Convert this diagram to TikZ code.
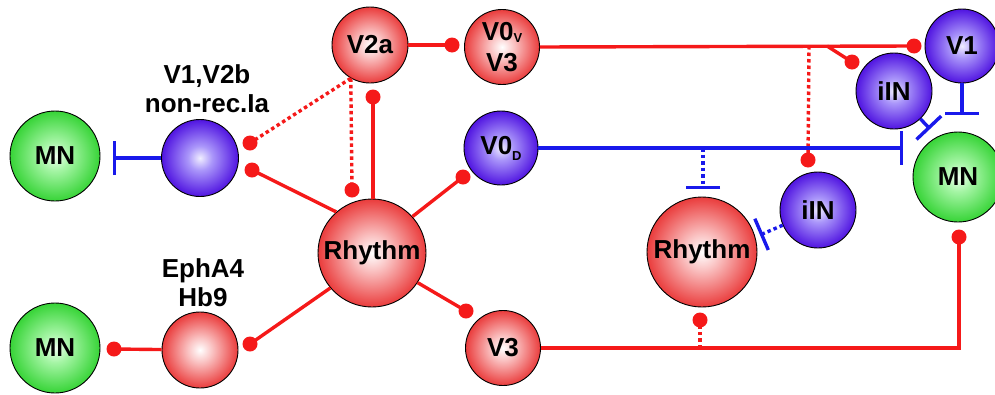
\documentclass[tikz,border=0pt]{standalone}
\usepackage{fontspec}
\setmainfont{Liberation Sans}
\usetikzlibrary{arrows.meta}
\definecolor{lred}{RGB}{245,25,25}
\definecolor{lblue}{RGB}{25,25,235}
\definecolor{rA}{RGB}{255,255,255}
\definecolor{rB}{RGB}{250,195,195}
\definecolor{rC}{RGB}{234,60,60}
\definecolor{bA}{RGB}{240,238,255}
\definecolor{bB}{RGB}{170,150,250}
\definecolor{bC}{RGB}{80,20,225}
\definecolor{gA}{RGB}{240,255,240}
\definecolor{gB}{RGB}{165,245,165}
\definecolor{gC}{RGB}{55,212,55}
\pgfdeclareradialshading{redball}{\pgfpoint{0bp}{0bp}}{color(0bp)=(rA); color(8bp)=(rB); color(25bp)=(rC); color(50bp)=(rC)}
\pgfdeclareradialshading{blueball}{\pgfpoint{0bp}{0bp}}{color(0bp)=(bA); color(8bp)=(bB); color(25bp)=(bC); color(50bp)=(bC)}
\pgfdeclareradialshading{greenball}{\pgfpoint{0bp}{0bp}}{color(0bp)=(gA); color(8bp)=(gB); color(25bp)=(gC); color(50bp)=(gC)}
\tikzset{
  ball/.style={circle, draw=black, line width=0.9pt, inner sep=0pt, align=center,
    font=\bfseries\fontsize{26}{31}\selectfont},
  rball/.style={ball, shading=redball, minimum size=#1},
  bball/.style={ball, shading=blueball, minimum size=#1},
  gball/.style={ball, shading=greenball, minimum size=#1},
  lbl/.style={align=center, inner sep=0pt, font=\bfseries\fontsize{26}{29}\selectfont},
  rdot/.style={circle, fill=lred, inner sep=0pt, minimum size=15pt},
  exc/.style={draw=lred, line width=3.4pt},
  excdot/.style={exc, dash pattern=on 3.5pt off 3pt},
  inhib/.style={draw=lblue, line width=3.4pt, -{Bar[width=34pt]}},
  inhdot/.style={inhib, dash pattern=on 3.5pt off 3pt},
}
\newcommand{\subv}[2]{\raisebox{#1}{\fontsize{13}{13}\selectfont #2}}
\begin{document}
\begin{tikzpicture}[x=1pt,y=-1pt]
\useasboundingbox (0,0) rectangle (995,394);
\clip (0,0) rectangle (995,394);
% nodes
\node[gball=90pt] (MNa) at (55,156) {MN};
\node[bball=77pt] (inh) at (200,158) {};
\node[lbl] (lab1) at (207,89) {V1,V2b\\non-rec.Ia};
\node[rball=76pt] (V2a) at (370,45) {V2a};
\node[rball=75pt] (V0V) at (502,47) {V0\subv{-2pt}{V}\\V3};
\node[bball=74pt] (V0D) at (501,148) {V0\subv{-6pt}{D}};
\node[rball=108pt] (Rh) at (372,253) {Rhythm};
\node[rball=76pt] (Eph) at (200,350) {};
\node[lbl] (lab2) at (203,283) {EphA4\\Hb9};
\node[gball=90pt] (MNb) at (55,348) {MN};
\node[rball=75pt] (V3) at (503,348) {V3};
\node[rball=110pt] (Rh2) at (702,252) {Rhythm};
\node[bball=76pt] (iIN2) at (818,210) {iIN};
\node[bball=76pt] (iIN1) at (894,91) {iIN};
\node[bball=74pt] (V1) at (962,46) {V1};
\node[gball=90pt] (MNc) at (958,177) {MN};
% dots
\node[rdot] (d1) at (250,143) {};
\node[rdot] (d2) at (252,170) {};
\node[rdot] (d3) at (352,190) {};
\node[rdot] (d4) at (373,97) {};
\node[rdot] (d5) at (463,177) {};
\node[rdot] (d6) at (452,45) {};
\node[rdot] (d7) at (250,344) {};
\node[rdot] (d8) at (114,349) {};
\node[rdot] (d9) at (466,311) {};
\node[rdot] (d10) at (914,46) {};
\node[rdot] (d11) at (852,62) {};
\node[rdot] (d12) at (808,160) {};
\node[rdot] (d13) at (959,237) {};
\node[rdot] (d14) at (700,320) {};
% helper coordinates
\coordinate (b1) at (827,46);
\coordinate (b2) at (809,46);
\coordinate (b3) at (703,148);
\coordinate (b4) at (700,348);
\coordinate (e1) at (113,158);
\coordinate (e2) at (903,148);
\coordinate (e3) at (703,189);
\coordinate (e4) at (760,235);
\coordinate (e5) at (930,129);
\coordinate (e6) at (962,115);
% excitatory connectors
\draw[excdot] (V2a.240) -- (d1.center);
\draw[excdot] (V2a.240) -- (d3.center);
\draw[exc] (Rh.131) -- (d2.center);
\draw[exc] (d4.center |- Rh.north) -- (d4.center);
\draw[exc] (Rh.42) -- (d5.center);
\draw[exc] (V2a) -- (d6.center);
\draw[exc] (Rh.220) -- (d7.center);
\draw[exc] (Eph) -- (d8.center);
\draw[exc] (Rh.-33) -- (d9.center);
\draw[exc] (V0V.east) -- (d10.center);
\draw[exc] (b1) -- (d11.center);
\draw[excdot] (b2) -- (d12.center);
\draw[exc] (V3.east) -| (d13.center);
\draw[excdot] (b4) -- (d14.center);
% inhibitory connectors
\draw[inhib] (inh.west) -- (e1);
\draw[inhib] (V0D.east) -- (e2);
\draw[inhdot] (b3) -- (e3);
\draw[inhdot] (iIN2) -- (e4);
\draw[inhib] (iIN1) -- (e5);
\draw[inhib] (V1.south) -- (e6);
\end{tikzpicture}
\end{document}
